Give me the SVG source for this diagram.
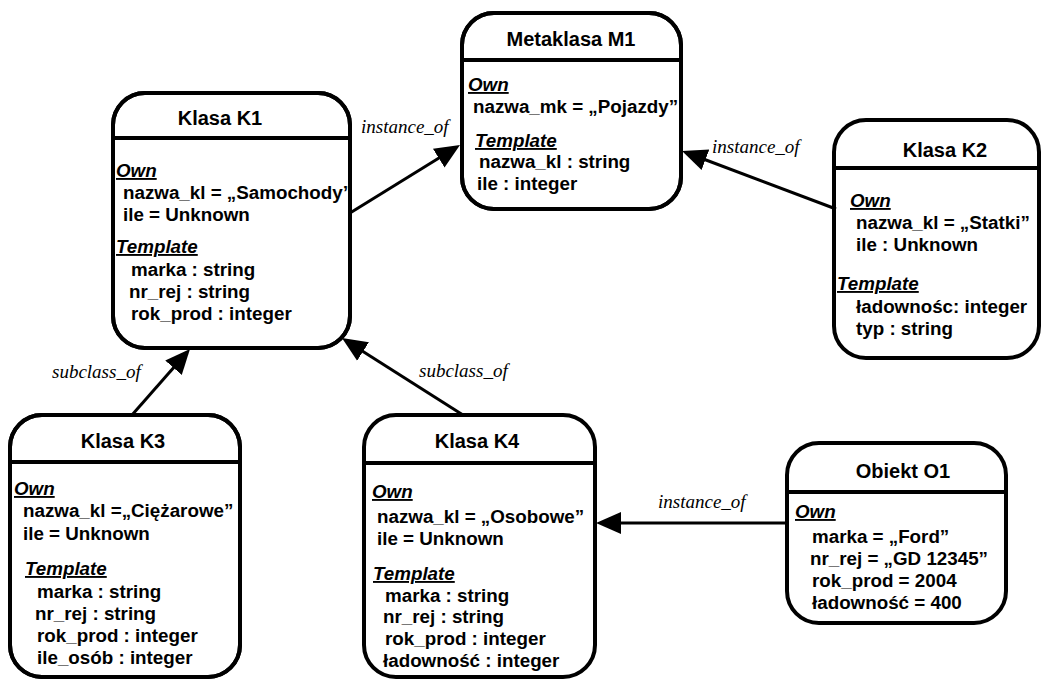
<svg xmlns="http://www.w3.org/2000/svg" width="1041" height="679" viewBox="0 0 1041 679">
<style>
.box{fill:#fff;stroke:#000;stroke-width:4}
.sep{stroke:#000;stroke-width:4}
.title{font-family:"Liberation Sans",Arial,sans-serif;font-weight:bold;font-size:20px;text-anchor:middle;fill:#000}
.t{font-family:"Liberation Sans",Arial,sans-serif;font-weight:bold;font-size:18.8px;fill:#000}
.sec{font-family:"Liberation Sans",Arial,sans-serif;font-weight:bold;font-style:italic;font-size:18.8px;text-decoration:underline;fill:#000}
.lbl{font-family:"Liberation Serif","Times New Roman",serif;font-style:italic;font-size:19px;fill:#000}
.con{stroke:#000;stroke-width:3;fill:none;marker-end:url(#arr)}
</style>
<defs>
<marker id="arr" markerUnits="userSpaceOnUse" markerWidth="28" markerHeight="26" viewBox="0 -13 28 26" refX="15" refY="0" orient="auto">
<path d="M0,-11 L25,0 L0,11 z" fill="#000"/>
</marker>
<clipPath id="cK1"><rect x="113" y="93" width="237" height="255" rx="32"/></clipPath>
<clipPath id="cM1"><rect x="462" y="13" width="219" height="196" rx="32"/></clipPath>
<clipPath id="cK2"><rect x="834" y="120" width="205" height="238" rx="32"/></clipPath>
<clipPath id="cK3"><rect x="10" y="415" width="230" height="262" rx="32"/></clipPath>
<clipPath id="cK4"><rect x="364" y="415" width="231" height="262" rx="32"/></clipPath>
<clipPath id="cO1"><rect x="787" y="443" width="219" height="180" rx="32"/></clipPath>
</defs>
<rect width="1041" height="679" fill="#fff"/>

<g id="M1">
<rect class="box" x="462" y="13" width="219" height="196" rx="32"/>
<line class="sep" x1="462" y1="60" x2="681" y2="60"/>
<text class="title" x="571" y="46">Metaklasa M1</text>
<g clip-path="url(#cM1)">
<text class="sec" x="468" y="91">Own</text>
<text class="t" x="473" y="113">nazwa_mk = „Pojazdy”</text>
<text class="sec" x="475" y="147">Template</text>
<text class="t" x="479" y="168">nazwa_kl : string</text>
<text class="t" x="477" y="190">ile : integer</text>
</g>
<rect x="462" y="13" width="219" height="196" rx="32" fill="none" stroke="#000" stroke-width="4"/>
</g>

<g id="K1">
<rect class="box" x="113" y="93" width="237" height="255" rx="32"/>
<line class="sep" x1="113" y1="138" x2="350" y2="138"/>
<text class="title" x="220" y="125">Klasa K1</text>
<g clip-path="url(#cK1)">
<text class="sec" x="116" y="177">Own</text>
<text class="t" x="123" y="199">nazwa_kl = „Samochody”</text>
<text class="t" x="123" y="221">ile = Unknown</text>
<text class="sec" x="116" y="253">Template</text>
<text class="t" x="131" y="276">marka : string</text>
<text class="t" x="129" y="298">nr_rej : string</text>
<text class="t" x="131" y="320">rok_prod : integer</text>
</g>
<rect x="113" y="93" width="237" height="255" rx="32" fill="none" stroke="#000" stroke-width="4"/>
</g>

<g id="K2">
<rect class="box" x="834" y="120" width="205" height="238" rx="32"/>
<line class="sep" x1="834" y1="168" x2="1039" y2="168"/>
<text class="title" x="945" y="157">Klasa K2</text>
<g clip-path="url(#cK2)">
<text class="sec" x="850" y="207">Own</text>
<text class="t" x="856" y="229">nazwa_kl = „Statki”</text>
<text class="t" x="856" y="251">ile : Unknown</text>
<text class="sec" x="837" y="290">Template</text>
<text class="t" x="856" y="313">ładownośc: integer</text>
<text class="t" x="856" y="335">typ : string</text>
</g>
</g>

<g id="K3">
<rect class="box" x="10" y="415" width="230" height="262" rx="32"/>
<line class="sep" x1="10" y1="462" x2="240" y2="462"/>
<text class="title" x="123" y="448">Klasa K3</text>
<g clip-path="url(#cK3)">
<text class="sec" x="14" y="495">Own</text>
<text class="t" x="23" y="517">nazwa_kl =„Ciężarowe”</text>
<text class="t" x="23" y="540">ile = Unknown</text>
<text class="sec" x="25" y="575">Template</text>
<text class="t" x="37" y="598">marka : string</text>
<text class="t" x="35" y="620">nr_rej : string</text>
<text class="t" x="37" y="642">rok_prod : integer</text>
<text class="t" x="37" y="664">ile_osób : integer</text>
</g>
<rect x="10" y="415" width="230" height="262" rx="32" fill="none" stroke="#000" stroke-width="4"/>
</g>

<g id="K4">
<rect class="box" x="364" y="415" width="231" height="262" rx="32"/>
<line class="sep" x1="364" y1="463" x2="595" y2="463"/>
<text class="title" x="477" y="448">Klasa K4</text>
<g clip-path="url(#cK4)">
<text class="sec" x="372" y="498">Own</text>
<text class="t" x="377" y="523">nazwa_kl = „Osobowe”</text>
<text class="t" x="377" y="545">ile = Unknown</text>
<text class="sec" x="373" y="580">Template</text>
<text class="t" x="385" y="602">marka : string</text>
<text class="t" x="383" y="623">nr_rej : string</text>
<text class="t" x="385" y="645">rok_prod : integer</text>
<text class="t" x="383" y="667">ładowność : integer</text>
</g>
</g>

<g id="O1">
<rect class="box" x="787" y="443" width="219" height="180" rx="32"/>
<line class="sep" x1="787" y1="492" x2="1006" y2="492"/>
<text class="title" x="903" y="478">Obiekt O1</text>
<g clip-path="url(#cO1)">
<text class="sec" x="795" y="518">Own</text>
<text class="t" x="812" y="543">marka = „Ford”</text>
<text class="t" x="810" y="565">nr_rej = „GD 12345”</text>
<text class="t" x="812" y="587">rok_prod = 2004</text>
<text class="t" x="812" y="609">ładowność = 400</text>
</g>
</g>

<g id="connectors">
<line class="con" x1="350" y1="213" x2="451.5" y2="150.3"/>
<line class="con" x1="836" y1="209" x2="691.4" y2="154.5"/>
<line class="con" x1="132" y1="415" x2="183.4" y2="356.5"/>
<line class="con" x1="463" y1="415" x2="350.4" y2="343.4"/>
<line class="con" x1="787" y1="523" x2="606" y2="523"/>
<text class="lbl" x="361" y="133">instance_of</text>
<text class="lbl" x="712" y="153">instance_of</text>
<text class="lbl" x="658" y="508">instance_of</text>
<text class="lbl" x="52" y="378">subclass_of</text>
<text class="lbl" x="419" y="377">subclass_of</text>
</g>
</svg>
